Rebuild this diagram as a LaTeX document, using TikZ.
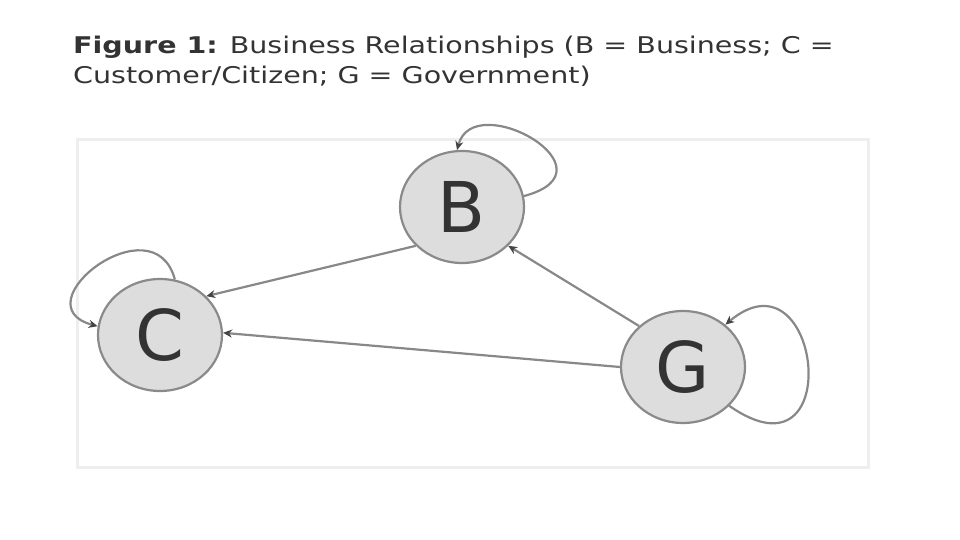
\documentclass[tikz,border=0pt]{standalone}
\usepackage{fontspec}
\setmainfont{DejaVu Sans}
\usetikzlibrary{shapes.geometric,arrows.meta}
\definecolor{nodefill}{HTML}{DDDDDD}
\definecolor{nodeline}{HTML}{8A8A8A}
\definecolor{edgeline}{HTML}{888888}
\definecolor{tipcol}{HTML}{444444}
\definecolor{framecol}{HTML}{EEEEEE}
\definecolor{textcol}{HTML}{333333}

\begin{document}
\begin{tikzpicture}[x=1pt,y=1pt,
    party/.style={ellipse, draw=nodeline, fill=nodefill, line width=2.2pt,
        minimum width=124pt, minimum height=112pt, inner sep=0pt,
        text=textcol, font=\fontsize{70}{70}\selectfont},
    rel/.style={draw=edgeline, line width=2.2pt,
        -{Stealth[length=9pt,width=8pt,color=tipcol]}}]
            \useasboundingbox (0,0) rectangle (960,540);
            % title
            \node[anchor=north west, align=left, text=textcol,
                font=\fontsize{23}{30}\selectfont\addfontfeature{FakeStretch=1.24},
                inner sep=0pt] (title) at (73,504)
                {\textbf{Figure 1:} Business Relationships (B = Business; C =\\
                Customer/Citizen; G = Government)};
            % frame
            \draw[framecol, line width=3pt] (77,72) rectangle (868,400);
            % parties
            \node[party] (B) at (462,333) {B};
            \node[party] (C) at (160,205) {C};
            \node[party] (G) at (683,173) {G};
            % relationships
            \draw[rel] (B.10) to[out=15, out distance=100, in=75, in distance=65] (B.95);
            \draw[rel] (B.220) -- (C.40);
            \draw[rel] (C.75) to[out=105, in=165, distance=82] (C.172);
            \draw[rel] (G.180) -- (C.2);
            \draw[rel] (G.137) -- (B.320);
            \draw[rel] (G.-40) to[out=-35, out distance=145, in=40, in distance=125] (G.45);
        \end{tikzpicture}
\end{document}
